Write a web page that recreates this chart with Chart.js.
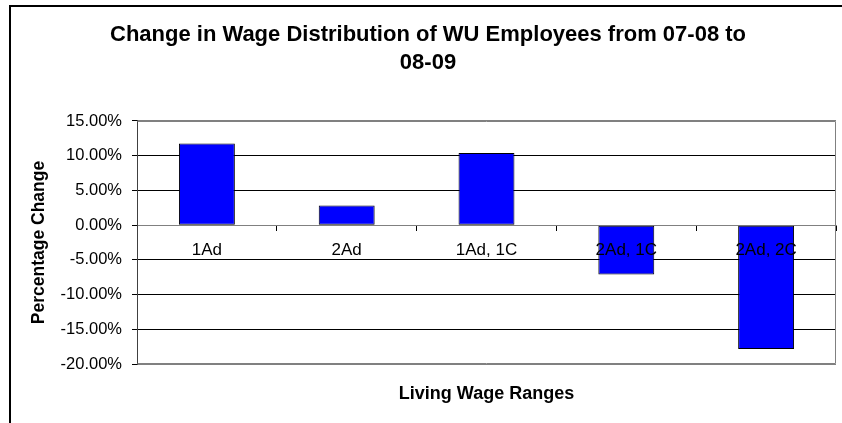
<!DOCTYPE html>
<html>
<head>
<meta charset="utf-8">
<script src="https://cdn.jsdelivr.net/npm/chart.js@4/dist/chart.umd.min.js"></script>
<style>
  html, body { margin: 0; padding: 0; background: #fff; }
  #wrap { position: relative; width: 842px; height: 423px; overflow: hidden; }
  #frame { position: absolute; left: 9px; top: 5px; width: 900px; height: 500px;
           border-left: 2px solid #000; border-top: 2px solid #000; }
  canvas { position: absolute; left: 0; top: 0; }
</style>
</head>
<body>
<div id="wrap">
  <div id="frame"></div>
  <canvas id="chart" width="842" height="423"></canvas>
</div>
<script>
/* ─── DATA ────────────────────────────────────────────────── */
const categories = ['1Ad', '2Ad', '1Ad, 1C', '2Ad, 1C', '2Ad, 2C'];
const changePct  = [11.75, 2.83, 10.4, -7.1, -17.85];   // percent
const yMin = -20, yMax = 15, yStep = 5;

const FONT = "'Liberation Sans', Arial, sans-serif";

/* ─── PLOT FRAME ──────────────────────────────────────────── */
const plotFrame = {
  id: 'plotFrame',
  afterDraw(chart) {
    const { ctx, chartArea: a } = chart;
    ctx.save();
    ctx.strokeStyle = '#808080';
    ctx.lineWidth = 1;
    ctx.beginPath();
    ctx.moveTo(Math.round(a.left) + 0.5, Math.round(a.top) + 0.5);
    ctx.lineTo(Math.round(a.right) - 0.5, Math.round(a.top) + 0.5);
    ctx.lineTo(Math.round(a.right) - 0.5, Math.round(a.bottom) - 0.5);
    ctx.lineTo(Math.round(a.left) + 0.5, Math.round(a.bottom) - 0.5);
    ctx.stroke();
    ctx.restore();
  }
};

/* ─── CHART ───────────────────────────────────────────────── */
new Chart(document.getElementById('chart'), {
  type: 'bar',
  data: {
    labels: categories,
    datasets: [{
      data: changePct,
      backgroundColor: '#0000FF',
      borderColor: '#000',
      borderWidth: 1,
      borderSkipped: false,
      categoryPercentage: 1,
      barPercentage: 0.4,
    }],
  },
  options: {
    responsive: false,
    animation: false,
    devicePixelRatio: 1,
    layout: { padding: { left: 20, right: 6, top: 0, bottom: 0 } },
    plugins: {
      legend: { display: false },
      tooltip: { enabled: false },
      title: {
        display: true,
        text: ['Change in Wage Distribution of WU Employees from 07-08 to', '08-09'],
        color: '#000',
        font: { family: FONT, size: 22, weight: 'bold', lineHeight: 1.2727 },
        padding: { top: 21, bottom: 44 },
      },
      subtitle: {
        display: true,
        position: 'bottom',
        fullSize: false,
        text: 'Living Wage Ranges',
        color: '#000',
        font: { family: FONT, size: 18, weight: 'bold', lineHeight: 1.2 },
        padding: { top: 19, bottom: 18.4 },
      },
    },
    scales: {
      x: {
        position: { y: 0 },
        grid: { drawOnChartArea: false, drawTicks: true, tickLength: 5, tickColor: '#000' },
        border: { display: true, color: '#808080' },
        ticks: { color: '#000', font: { family: FONT, size: 17 }, padding: 10, z: 1, maxRotation: 0 },
      },
      y: {
        min: yMin,
        max: yMax,
        afterFit: s => { s.width = 117; },
        ticks: {
          stepSize: yStep,
          color: '#000',
          padding: 10,
          font: { family: FONT, size: 16.5 },
          callback: v => v.toFixed(2) + '%',
        },
        grid: {
          color: c => (c.tick && (c.tick.value === yMax || c.tick.value === yMin || c.tick.value === 0)) ? '#808080' : '#000',
          tickLength: 5,
          tickColor: '#000',
        },
        border: { display: true, color: '#404040' },
        title: {
          display: true,
          text: 'Percentage Change',
          color: '#000',
          font: { family: FONT, size: 17.5, weight: 'bold' },
          padding: { top: 8.5, bottom: 0 },
        },
      },
    },
  },
  plugins: [plotFrame],
});
</script>
</body>
</html>
